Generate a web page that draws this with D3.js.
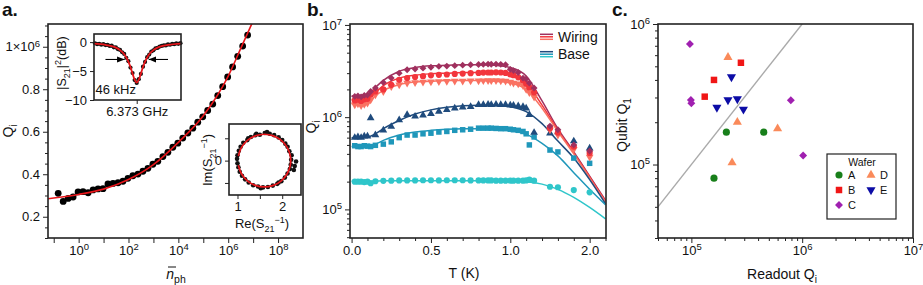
<!DOCTYPE html>
<html>
<head>
<meta charset="utf-8">
<script src="https://cdn.jsdelivr.net/npm/d3@7"></script>
<style>
  body { margin: 0; background: #fff; }
  svg { font-family: "Liberation Sans", Arial, sans-serif; }
</style>
</head>
<body>
<svg id="fig" width="923" height="285"></svg>
<script>
// ---------- panel a : Qi vs photon number ----------
var photonN = [0.151, 0.24, 0.38, 0.60, 0.95, 1.5, 2.4, 3.8, 6.0, 9.5, 15, 24, 38, 60, 95, 150, 240, 380, 600, 950,
    1.5e3, 2.4e3, 3.8e3, 6.0e3, 9.5e3, 1.5e4, 2.4e4, 3.8e4, 6.0e4, 9.5e4, 1.5e5, 2.4e5, 3.8e5, 6.0e5, 9.5e5,
    1.5e6, 2.4e6, 3.8e6, 6.0e6];
var qiPhoton = [0.31, 0.272, 0.286, 0.293, 0.317, 0.318, 0.313, 0.326, 0.331, 0.332, 0.354, 0.357, 0.36, 0.367, 0.381,
    0.393, 0.401, 0.414, 0.428, 0.447, 0.461, 0.483, 0.503, 0.527, 0.546, 0.57, 0.594, 0.617, 0.645, 0.670,
    0.700, 0.730, 0.770, 0.812, 0.858, 0.905, 0.955, 1.003, 1.055];
var fitPhotonN = [0.059, 1, 10, 100, 1e3, 1e4, 1e5, 1e6, 3e6, 9e6];
var fitPhotonQ = [0.285, 0.305, 0.33, 0.375, 0.445, 0.55, 0.675, 0.862, 0.985, 1.11];
var photonTickExp = [-1, 0, 1, 2, 3, 4, 5, 6, 7, 8];
var qiTicks = [0.2, 0.4, 0.6, 0.8, 1.0];
var qiTickLabels = ["0.2", "0.4", "0.6", "0.8", "1×10|6"];

// inset: transmission dip (offset from 6.373 GHz in kHz)
var dipKHz = [-80, -76, -72, -68, -64, -60, -56, -52, -48, -44, -40, -36, -32, -28, -24, -20, -16, -12, -8, -4, 0,
    4, 8, 12, 16, 20, 24, 28, 32, 36, 40, 44, 48, 52, 56, 60, 64, 68, 72, 76, 80, 84];
var dipDb = [-0.20, -0.35, -0.28, -0.45, -0.36, -0.52, -0.48, -0.66, -0.62, -0.90, -0.90, -1.22, -1.35, -1.75, -2.05,
    -2.72, -3.30, -4.40, -5.35, -6.55, -7.05, -6.40, -5.50, -4.25, -3.42, -2.60, -2.15, -1.62, -1.42, -1.08, -1.00,
    -0.78, -0.66, -0.55, -0.58, -0.40, -0.46, -0.30, -0.36, -0.22, -0.30, -0.18];
var dipFitKHz = [-82, -60, -48, -40, -32, -24, -20, -16, -12, -8, -4, 0, 4, 8, 12, 16, 20, 24, 32, 40, 48, 60, 85];
var dipFitDb = [-0.28, -0.48, -0.70, -0.96, -1.38, -2.10, -2.65, -3.36, -4.31, -5.44, -6.5, -7.0, -6.5, -5.44, -4.31,
    -3.36, -2.65, -2.10, -1.38, -0.96, -0.70, -0.48, -0.25];

// inset: inverse S21 circle
var circRe = [2.20, 2.21, 2.16, 2.12, 2.07, 2.00, 1.92, 1.82, 1.72, 1.61, 1.50, 1.40, 1.30, 1.22, 1.13, 1.07, 1.03, 1.00,
    0.99, 1.00, 1.02, 1.05, 1.10, 1.17, 1.25, 1.35, 1.46, 1.57, 1.68, 1.79, 1.89, 1.98, 2.06, 2.12, 2.17, 2.19,
    2.28, 2.31, 2.26, 1.66, 1.42, 1.24, 1.52, 1.92];
var circIm = [0.02, 0.12, 0.21, 0.31, 0.38, 0.46, 0.52, 0.57, 0.60, 0.62, 0.58, 0.57, 0.53, 0.46, 0.40, 0.31, 0.22, 0.12,
    0.04, -0.06, -0.15, -0.25, -0.34, -0.42, -0.49, -0.55, -0.58, -0.60, -0.59, -0.56, -0.52, -0.46, -0.38, -0.29,
    -0.19, -0.09, -0.12, -0.02, -0.21, 0.64, 0.60, 0.50, -0.62, -0.49];
var circFitRe = [1.019, 1.089, 1.221, 1.398, 1.600, 1.802, 1.979, 2.111, 2.181, 2.181, 2.111, 1.979, 1.802, 1.600,
    1.398, 1.221, 1.089, 1.019];
var circFitIm = [-0.103, -0.295, -0.452, -0.555, -0.590, -0.555, -0.452, -0.295, -0.103, 0.103, 0.295, 0.452, 0.555,
    0.590, 0.555, 0.452, 0.295, 0.103];

// ---------- panel b : Qi vs temperature ----------
var tempK = [0.02, 0.04, 0.06, 0.08, 0.1, 0.12, 0.15, 0.2, 0.25, 0.3, 0.35, 0.4, 0.45, 0.5, 0.55, 0.6, 0.65, 0.7, 0.75,
    0.8, 0.83, 0.86, 0.88, 0.91, 0.94, 0.97, 1.0, 1.02, 1.05, 1.08, 1.1, 1.12, 1.15, 1.25, 1.3, 1.4, 1.5];
var wiring1 = [1.68, 1.70, 1.66, 1.72, 1.74, 1.90, 2.07, 2.38, 2.65, 3.00, 3.27, 3.33, 3.40, 3.48, 3.55, 3.58, 3.62,
    3.66, 3.70, 3.72, 3.74, 3.76, 3.75, 3.76, 3.74, 3.70, 3.30, 3.20, 3.05, 2.65, 2.60, 2.34, 2.07, 0.80, 0.73,
    0.50, 0.43];
var wiring2 = [1.52, 1.55, 1.50, 1.56, 1.58, 1.75, 1.90, 2.00, 2.24, 2.54, 2.65, 2.72, 2.78, 2.84, 2.88, 2.90, 2.94,
    2.97, 3.00, 3.02, 3.04, 3.05, 3.05, 3.06, 3.05, 3.02, 2.90, 2.85, 2.70, 2.50, 2.30, 2.10, 1.85, 0.76, 0.68,
    0.48, 0.41];
var wiring3 = [1.36, 1.40, 1.34, 1.38, 1.42, 1.54, 1.75, 1.90, 2.15, 2.24, 2.34, 2.38, 2.40, 2.42, 2.44, 2.45, 2.46,
    2.47, 2.48, 2.48, 2.49, 2.50, 2.49, 2.50, 2.48, 2.46, 2.40, 2.35, 2.30, 2.20, 2.00, 1.85, 1.65, 0.73, 0.64,
    0.45, 0.37];
var base1 = [0.60, 0.61, 0.60, 0.62, 0.62, 0.98, 0.64, 0.72, 0.79, 0.93, 1.06, 1.02, 1.05, 1.09, 1.15, 1.20, 1.25,
    1.28, 1.30, 1.36, 1.36, 1.37, 1.36, 1.37, 1.36, 1.36, 1.35, 1.34, 1.32, 1.30, 1.25, 1.06, 0.68, 0.67, 0.69,
    0.55, 0.46];
var base2 = [0.49, 0.48, 0.48, 0.49, 0.485, 0.48, 0.495, 0.51, 0.54, 0.60, 0.64, 0.64, 0.66, 0.67, 0.69, 0.70, 0.72,
    0.73, 0.74, 0.76, 0.76, 0.76, 0.76, 0.755, 0.75, 0.75, 0.74, 0.73, 0.72, 0.70, 0.66, 0.50, 0.61, 0.44, 0.42,
    0.36, 0.316];
var base3 = [0.200, 0.200, 0.200, 0.198, 0.200, 0.192, 0.202, 0.204, 0.205, 0.206, 0.206, 0.206, 0.207, 0.207, 0.206,
    0.207, 0.207, 0.207, 0.206, 0.206, 0.206, 0.206, 0.206, 0.205, 0.205, 0.205, 0.205, 0.205, 0.205, 0.205,
    0.206, 0.210, 0.205, 0.176, 0.174, 0.162, 0.153];
var fitT = [0, 0.1, 0.15, 0.2, 0.3, 0.4, 0.5, 0.6, 0.7, 0.8, 0.9, 1.0, 1.1, 1.2, 1.3, 1.4, 1.5, 1.6];
var wiring1Fit = [1.70, 1.75, 2.10, 2.50, 3.15, 3.45, 3.60, 3.65, 3.70, 3.70, 3.65, 3.45, 2.80, 1.50, 0.75, 0.42, 0.23, 0.125];
var wiring2Fit = [1.55, 1.60, 1.85, 2.20, 2.65, 2.85, 2.95, 3.00, 3.05, 3.05, 3.00, 2.85, 2.35, 1.35, 0.72, 0.41, 0.225, 0.122];
var wiring3Fit = [1.40, 1.45, 1.70, 1.95, 2.25, 2.40, 2.45, 2.50, 2.50, 2.50, 2.45, 2.35, 2.00, 1.25, 0.70, 0.40, 0.22, 0.12];
var base1Fit = [0.60, 0.61, 0.66, 0.75, 0.92, 1.08, 1.20, 1.28, 1.33, 1.35, 1.35, 1.30, 1.15, 0.85, 0.55, 0.36, 0.21, 0.115];
var base2Fit = [0.48, 0.485, 0.51, 0.56, 0.64, 0.69, 0.72, 0.74, 0.75, 0.75, 0.745, 0.72, 0.65, 0.52, 0.38, 0.25, 0.165, 0.112];
var base3Fit = [0.202, 0.202, 0.203, 0.204, 0.205, 0.205, 0.205, 0.205, 0.205, 0.205, 0.205, 0.204, 0.200, 0.188, 0.165,
    0.135, 0.105, 0.079];
var tTicks = [0, 0.5, 1.0, 1.5];
var tTickLabels = ["0.0", "0.5", "1.0", "2.0"];

// ---------- panel c : qubit Q1 vs readout Qi ----------
var waferA = {readout: [2.07e5, 4.5e5, 1.6e5], qubit: [1.7e5, 1.7e5, 8.0e4]};
var waferB = {readout: [2.8e5, 1.6e5, 1.32e5], qubit: [5.3e5, 4.0e5, 3.04e5]};
var waferC = {readout: [9.7e4, 9.9e4, 1.0e5, 7.9e5, 1.02e6], qubit: [7.2e5, 2.88e5, 2.73e5, 2.87e5, 1.16e5]};
var waferD = {readout: [2.14e5, 2.6e5, 6.0e5, 2.33e5], qubit: [5.8e5, 2.0e5, 1.8e5, 1.03e5]};
var waferE = {readout: [2.3e5, 2.14e5, 2.6e5, 1.7e5, 2.95e5], qubit: [4.2e5, 2.88e5, 2.93e5, 2.55e5, 2.47e5]};
var diagQ = [5e4, 1e6];

var svg = d3.select("#fig");
var ink = "#222";

function frame(l, t, r, b) {
    svg.append("rect").attr("x", l).attr("y", t).attr("width", r - l).attr("height", b - t)
        .attr("fill", "none").attr("stroke", ink).attr("stroke-width", 1.6);
}

function axis(gen, pos, values, size, fmt, fs) {
    var g = svg.append("g").attr("transform", pos)
        .call(gen.tickValues(values).tickSize(size).tickSizeOuter(0).tickPadding(3).tickFormat(fmt || ""));
    g.select(".domain").remove();
    g.selectAll("line").attr("stroke", ink);
    g.selectAll("text").attr("fill", "#111").style("font-size", (fs || 13) + "px")
        .style("font-family", "'Liberation Sans', Arial, sans-serif");
    return g;
}

function pow10(g) {
    g.selectAll(".tick text").each(function (d) {
        var t = d3.select(this).text(null);
        t.append("tspan").text("10");
        t.append("tspan").attr("dy", "-0.5em").style("font-size", "9.5px").text(Math.round(Math.log10(d)));
    });
}

function minorLog(lo, hi) {
    var out = [];
    for (var e = Math.floor(Math.log10(lo)); e <= Math.ceil(Math.log10(hi)); e++) {
        for (var m = 2; m <= 9; m++) {
            var v = m * Math.pow(10, e);
            if (v >= lo && v <= hi) out.push(v);
        }
    }
    return out;
}

// parts: [text, dy in px, font size in px, italic]
function label(x, y, parts, opts) {
    opts = opts || {};
    var t = svg.append("text").attr("x", x).attr("y", y)
        .attr("text-anchor", opts.anchor || "middle")
        .style("font-size", (opts.size || 14) + "px").attr("fill", "#111");
    if (opts.rotate) t.attr("transform", "rotate(-90," + x + "," + y + ")");
    parts.forEach(function (p) {
        var s = t.append("tspan").text(p[0]);
        if (p[1]) s.attr("dy", p[1]);
        if (p[2]) s.style("font-size", p[2] + "px");
        if (p[3]) s.style("font-style", "italic");
    });
    return t;
}

// panel letters
[["a.", 2], ["b.", 307], ["c.", 612]].forEach(function (p) {
    svg.append("text").attr("x", p[1]).attr("y", 16).text(p[0])
        .style("font-size", "19px").style("font-weight", "bold").attr("fill", "#111");
});

// ================= panel a =================
var ax = {l: 48, r: 303, t: 24, b: 238};
var xA = d3.scaleLog().domain([0.059, 1e9]).range([ax.l, ax.r]);
var yA = d3.scaleLinear().domain([0.1, 1.107]).range([ax.b, ax.t]);

svg.append("clipPath").attr("id", "clipA").append("rect")
    .attr("x", ax.l).attr("y", ax.t).attr("width", ax.r - ax.l).attr("height", ax.b - ax.t);

var gA = svg.append("g").attr("clip-path", "url(#clipA)");
gA.selectAll("circle").data(photonN).enter().append("circle")
    .attr("cx", function (d) { return xA(d); })
    .attr("cy", function (d, i) { return yA(qiPhoton[i]); })
    .attr("r", 3.4).attr("fill", "#000");
gA.append("path").datum(fitPhotonN)
    .attr("fill", "none").attr("stroke", "#e8161b").attr("stroke-width", 1.6)
    .attr("d", d3.line().curve(d3.curveMonotoneX)
        .x(function (d) { return xA(d); })
        .y(function (d, i) { return yA(fitPhotonQ[i]); }));

var evenDec = photonTickExp.filter(function (e) { return e % 2 === 0; }).map(function (e) { return Math.pow(10, e); });
var oddDec = photonTickExp.filter(function (e) { return e % 2 !== 0; }).map(function (e) { return Math.pow(10, e); });
var gAx = axis(d3.axisBottom(xA), "translate(0," + ax.b + ")", evenDec, 5, function (d) { return d; });
pow10(gAx);
axis(d3.axisBottom(xA), "translate(0," + ax.b + ")", oddDec, 5);

var gAy = axis(d3.axisLeft(yA), "translate(" + ax.l + ",0)", qiTicks, 5, function (d, i) { return qiTickLabels[i]; });
gAy.selectAll(".tick text").each(function (d, i) {
    var parts = qiTickLabels[i].split("|");
    if (parts.length > 1) {
        var t = d3.select(this).text(null);
        t.append("tspan").text(parts[0]);
        t.append("tspan").attr("dy", "-0.5em").style("font-size", "9.5px").text(parts[1]);
    }
});
var minorQ = d3.range(0.1, 1.101, 0.05).filter(function (v) { return Math.abs(v * 5 - Math.round(v * 5)) > 0.01; });
axis(d3.axisLeft(yA), "translate(" + ax.l + ",0)", minorQ, 3);

label(13, 131, [["Q"], ["i", 4, 10]], {rotate: true, size: 14});
label(176, 279, [["n", 0, 0, true], ["ph", 4, 10.5]], {size: 14});
svg.append("line").attr("x1", 168).attr("x2", 176).attr("y1", 267).attr("y2", 267)
    .attr("stroke", "#111").attr("stroke-width", 1);
frame(ax.l, ax.t, ax.r, ax.b);

// inset 1: dip
var i1 = {l: 94, r: 181, t: 34, b: 100};
svg.append("rect").attr("x", i1.l).attr("y", i1.t).attr("width", i1.r - i1.l).attr("height", i1.b - i1.t)
    .attr("fill", "#fff");
var xI1 = d3.scaleLinear().domain([-82, 85]).range([i1.l, i1.r]);
var yI1 = d3.scaleLinear().domain([-10, 1.4]).range([i1.b, i1.t]);
svg.append("g").selectAll("circle").data(dipKHz).enter().append("circle")
    .attr("cx", function (d) { return xI1(d); })
    .attr("cy", function (d, i) { return yI1(dipDb[i]); })
    .attr("r", 2.1).attr("fill", "#111");
svg.append("path").datum(dipFitKHz)
    .attr("fill", "none").attr("stroke", "#e8161b").attr("stroke-width", 1.8)
    .attr("d", d3.line().curve(d3.curveMonotoneX)
        .x(function (d) { return xI1(d); })
        .y(function (d, i) { return yI1(dipFitDb[i]); }));

svg.append("defs").append("marker").attr("id", "arr").attr("viewBox", "0 0 10 10")
    .attr("refX", 10).attr("refY", 5).attr("markerWidth", 7).attr("markerHeight", 7)
    .attr("orient", "auto").append("path").attr("d", "M0,1 L10,5 L0,9 z").attr("fill", "#000");
[[-60, -23], [60, 23]].forEach(function (a) {
    svg.append("line").attr("x1", xI1(a[0])).attr("x2", xI1(a[1]))
        .attr("y1", yI1(-3)).attr("y2", yI1(-3))
        .attr("stroke", "#000").attr("stroke-width", 1.1).attr("marker-end", "url(#arr)");
});
axis(d3.axisLeft(yI1), "translate(" + i1.l + ",0)", [-10, -5, 0], 4,
    function (d) { return d === 0 ? "0" : "\u2212" + Math.abs(d); });
axis(d3.axisBottom(xI1), "translate(0," + i1.b + ")", [0], 4, function () { return "6.373 GHz"; });
svg.append("text").attr("x", i1.l + 1.5).attr("y", 93.5).text("46 kHz")
    .style("font-size", "13px").attr("fill", "#111");
label(66, 63, [["|S"], ["21", 3.5, 9], ["|", -3.5], ["2", -5, 9], ["(dB)", 5]], {rotate: true, size: 12.5});
frame(i1.l, i1.t, i1.r, i1.b);

// inset 2: circle
var i2 = {l: 229, r: 301, t: 124, b: 195};
svg.append("rect").attr("x", i2.l).attr("y", i2.t).attr("width", i2.r - i2.l).attr("height", i2.b - i2.t)
    .attr("fill", "#fff");
var xI2 = d3.scaleLinear().domain([0.81, 2.42]).range([i2.l, i2.r]);
var yI2 = d3.scaleLinear().domain([-0.77, 0.82]).range([i2.b, i2.t]);
svg.append("g").selectAll("circle").data(circRe).enter().append("circle")
    .attr("cx", function (d) { return xI2(d); })
    .attr("cy", function (d, i) { return yI2(circIm[i]); })
    .attr("r", 2.3).attr("fill", "#111");
svg.append("path").datum(circFitRe)
    .attr("fill", "none").attr("stroke", "#e8161b").attr("stroke-width", 1.7)
    .attr("d", d3.line().curve(d3.curveCatmullRom)
        .x(function (d) { return xI2(d); })
        .y(function (d, i) { return yI2(circFitIm[i]); }));
axis(d3.axisLeft(yI2), "translate(" + i2.l + ",0)", [-0.5, 0, 0.5], 4,
    function (d) { return d === 0 ? "0" : ""; });
axis(d3.axisBottom(xI2), "translate(0," + i2.b + ")", [1, 1.5, 2], 4,
    function (d) { return d === 1.5 ? "" : d; });
label(212, 160, [["Im(S"], ["21", 3.5, 9], ["\u22121", -9, 9], [")", 5.5]], {rotate: true, size: 13});
label(262, 228, [["Re(S"], ["21", 3.5, 9], ["\u22121", -9, 9], [")", 5.5]], {size: 13});
frame(i2.l, i2.t, i2.r, i2.b);

// ================= panel b =================
var bx = {l: 350, r: 606, t: 24, b: 238};
var xB = d3.scaleLinear().domain([-0.01, 1.603]).range([bx.l, bx.r]);
var yB = d3.scaleLog().domain([Math.pow(10, 4.69), Math.pow(10, 7.01)]).range([bx.b, bx.t]);

svg.append("clipPath").attr("id", "clipB").append("rect")
    .attr("x", bx.l).attr("y", bx.t).attr("width", bx.r - bx.l).attr("height", bx.b - bx.t);
var gB = svg.append("g").attr("clip-path", "url(#clipB)");

var seriesB = [
    {vals: wiring1, fit: wiring1Fit, scale: 1e6, color: "#a0305e", sym: d3.symbolDiamond2, size: 30, rot: 0},
    {vals: wiring2, fit: wiring2Fit, scale: 1e6, color: "#f2353c", sym: d3.symbolCircle, size: 30, rot: 0},
    {vals: wiring3, fit: wiring3Fit, scale: 1e6, color: "#fa7262", sym: d3.symbolTriangle, size: 26, rot: 180},
    {vals: base1, fit: base1Fit, scale: 1e6, color: "#1f4b7d", sym: d3.symbolTriangle, size: 26, rot: 0},
    {vals: base2, fit: base2Fit, scale: 1e6, color: "#1f97ba", sym: d3.symbolSquare, size: 30, rot: 0},
    {vals: base3, fit: base3Fit, scale: 1e6, color: "#2fc6ca", sym: d3.symbolCircle, size: 30, rot: 0}
];
seriesB.forEach(function (s) {
    gB.append("path").datum(fitT)
        .attr("fill", "none").attr("stroke", s.color).attr("stroke-width", 1.5)
        .attr("d", d3.line().curve(d3.curveMonotoneX)
            .x(function (d) { return xB(d); })
            .y(function (d, i) { return yB(s.fit[i] * s.scale); }));
});
seriesB.slice().reverse().forEach(function (s) {
    gB.append("g").selectAll("path").data(tempK).enter().append("path")
        .attr("d", d3.symbol().type(s.sym).size(s.size))
        .attr("transform", function (d, i) {
            return "translate(" + xB(d) + "," + yB(s.vals[i] * s.scale) + ") rotate(" + s.rot + ")";
        })
        .attr("fill", s.color);
});

var minorT = d3.range(0, 1.61, 0.1).filter(function (v) { return Math.abs(v * 2 - Math.round(v * 2)) > 0.01; });
axis(d3.axisBottom(xB), "translate(0," + bx.b + ")", tTicks, 5, function (d, i) { return tTickLabels[i]; });
axis(d3.axisBottom(xB), "translate(0," + bx.b + ")", minorT, 3);
pow10(axis(d3.axisLeft(yB), "translate(" + bx.l + ",0)", [1e5, 1e6, 1e7], 5, function (d) { return d; }));
axis(d3.axisLeft(yB), "translate(" + bx.l + ",0)", minorLog(5e4, 1e7), 3);

label(316, 127, [["Q"], ["i", 4, 10]], {rotate: true, size: 14});
label(464, 278, [["T (K)"]], {size: 14});

// legend b
[["Wiring", [0, 1, 2], 34.3], ["Base", [3, 4, 5], 51.7]].forEach(function (row) {
    row[1].forEach(function (k, j) {
        svg.append("line").attr("x1", 540).attr("x2", 553)
            .attr("y1", row[2] + j * 2.5).attr("y2", row[2] + j * 2.5)
            .attr("stroke", seriesB[k].color).attr("stroke-width", 1.5);
    });
    svg.append("text").attr("x", 558).attr("y", row[2] + 7.5).text(row[0])
        .style("font-size", "14px").attr("fill", "#111");
});
frame(bx.l, bx.t, bx.r, bx.b);

// ================= panel c =================
var cx = {l: 658, r: 913, t: 24, b: 238};
var xC = d3.scaleLog().domain([5e4, 1e7]).range([cx.l, cx.r]);
var yC = d3.scaleLog().domain([3e4, 1e6]).range([cx.b, cx.t]);

svg.append("clipPath").attr("id", "clipC").append("rect")
    .attr("x", cx.l).attr("y", cx.t).attr("width", cx.r - cx.l).attr("height", cx.b - cx.t);
svg.append("line").attr("clip-path", "url(#clipC)")
    .attr("x1", xC(diagQ[0])).attr("y1", yC(diagQ[0]))
    .attr("x2", xC(diagQ[1])).attr("y2", yC(diagQ[1]))
    .attr("stroke", "#aaa").attr("stroke-width", 1.4);

var wafers = [
    {name: "A", d: waferA, color: "#187f1a", sym: d3.symbolCircle, size: 40, rot: 0},
    {name: "B", d: waferB, color: "#f01616", sym: d3.symbolSquare, size: 42, rot: 0},
    {name: "C", d: waferC, color: "#a020b0", sym: d3.symbolDiamond2, size: 40, rot: 0},
    {name: "D", d: waferD, color: "#fa8a5a", sym: d3.symbolTriangle, size: 36, rot: 0},
    {name: "E", d: waferE, color: "#0c0ca6", sym: d3.symbolTriangle, size: 36, rot: 180}
];
wafers.forEach(function (w) {
    svg.append("g").selectAll("path").data(w.d.readout).enter().append("path")
        .attr("d", d3.symbol().type(w.sym).size(w.size))
        .attr("transform", function (d, i) {
            return "translate(" + xC(d) + "," + yC(w.d.qubit[i]) + ") rotate(" + w.rot + ")";
        })
        .attr("fill", w.color);
});

pow10(axis(d3.axisBottom(xC), "translate(0," + cx.b + ")", [1e5, 1e6, 1e7], 5, function (d) { return d; }));
axis(d3.axisBottom(xC), "translate(0," + cx.b + ")", minorLog(5e4, 1e7), 3);
pow10(axis(d3.axisLeft(yC), "translate(" + cx.l + ",0)", [1e5, 1e6], 5, function (d) { return d; }));
axis(d3.axisLeft(yC), "translate(" + cx.l + ",0)", minorLog(3e4, 1e6), 3);

label(627, 125, [["Qubit Q"], ["1", 4, 10]], {rotate: true, size: 14});
label(782, 279, [["Readout Q"], ["i", 4, 10]], {size: 14});

// legend c
svg.append("rect").attr("x", 827).attr("y", 154).attr("width", 69).attr("height", 65)
    .attr("fill", "#fff").attr("stroke", ink).attr("stroke-width", 1.2);
svg.append("text").attr("x", 862).attr("y", 166).attr("text-anchor", "middle").text("Wafer")
    .style("font-size", "10.5px").attr("fill", "#111");
var legPos = {A: [839, 175], D: [871, 175], B: [839, 190], E: [871, 190], C: [839, 205]};
wafers.forEach(function (w) {
    var p = legPos[w.name];
    svg.append("path").attr("d", d3.symbol().type(w.sym).size(w.size))
        .attr("transform", "translate(" + p[0] + "," + p[1] + ") rotate(" + w.rot + ")")
        .attr("fill", w.color);
    svg.append("text").attr("x", p[0] + 9).attr("y", p[1] + 4).text(w.name)
        .style("font-size", "11px").attr("fill", "#111");
});
frame(cx.l, cx.t, cx.r, cx.b);
</script>
